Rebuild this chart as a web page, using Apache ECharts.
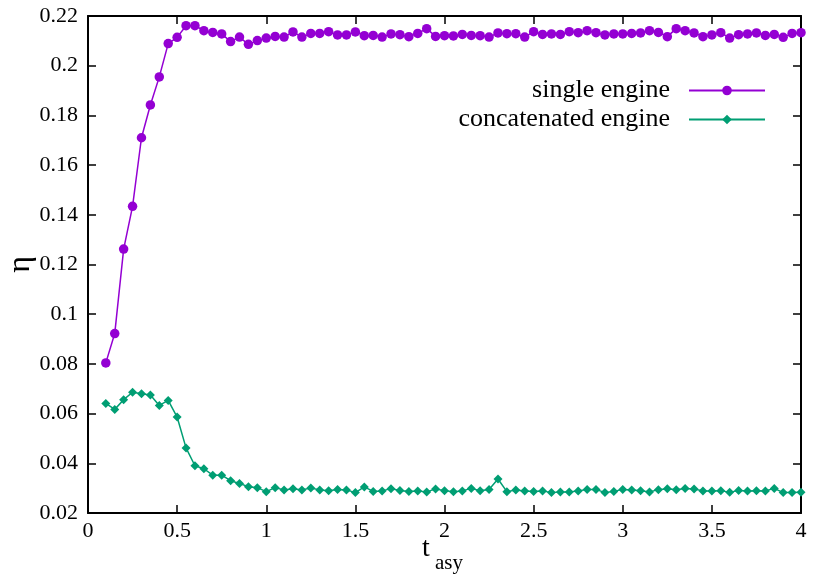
<!DOCTYPE html>
<html>
<head>
<meta charset="utf-8">
<script src="https://cdn.jsdelivr.net/npm/echarts@6/dist/echarts.min.js"></script>
<style>
  html, body { margin: 0; padding: 0; background: #fff; }
  #chart { width: 830px; height: 581px; }
</style>
</head>
<body>
<div id="chart"></div>
<script>
// t_asy sample points
const tAsy = [
  0.1, 0.15, 0.2, 0.25, 0.3, 0.35, 0.4, 0.45, 0.5, 0.55, 0.6, 0.65, 0.7, 0.75, 0.8, 0.85, 0.9, 0.95,
  1.0, 1.05, 1.1, 1.15, 1.2, 1.25, 1.3, 1.35, 1.4, 1.45, 1.5, 1.55, 1.6, 1.65, 1.7, 1.75, 1.8, 1.85, 1.9, 1.95,
  2.0, 2.05, 2.1, 2.15, 2.2, 2.25, 2.3, 2.35, 2.4, 2.45, 2.5, 2.55, 2.6, 2.65, 2.7, 2.75, 2.8, 2.85, 2.9, 2.95,
  3.0, 3.05, 3.1, 3.15, 3.2, 3.25, 3.3, 3.35, 3.4, 3.45, 3.5, 3.55, 3.6, 3.65, 3.7, 3.75, 3.8, 3.85, 3.9, 3.95,
  4.0,
];

const singleEngine = [
  0.0804, 0.0922, 0.1262, 0.1434, 0.1710, 0.1842, 0.1955, 0.2089, 0.2114, 0.2161, 0.2161, 0.2141, 0.2134, 0.2128, 0.2097, 0.2115, 0.2086, 0.2101,
  0.2111, 0.2118, 0.2115, 0.2136, 0.2115, 0.2130, 0.2130, 0.2137, 0.2124, 0.2124, 0.2136, 0.2121, 0.2122, 0.2115, 0.2128, 0.2125, 0.2117, 0.2130, 0.2149, 0.2118,
  0.2121, 0.2120, 0.2126, 0.2122, 0.2121, 0.2115, 0.2132, 0.2129, 0.2129, 0.2115, 0.2137, 0.2126, 0.2128, 0.2126, 0.2137, 0.2133, 0.2141, 0.2133, 0.2124, 0.2128,
  0.2128, 0.2130, 0.2132, 0.2141, 0.2134, 0.2117, 0.2149, 0.2141, 0.2132, 0.2117, 0.2124, 0.2133, 0.2111, 0.2125, 0.2128, 0.2132, 0.2122, 0.2126, 0.2114, 0.2130,
  0.2133,
];

const concatenatedEngine = [
  0.0641, 0.0617, 0.0656, 0.0686, 0.0680, 0.0675, 0.0633, 0.0653, 0.0586, 0.0462, 0.0390, 0.0378, 0.0352, 0.0352, 0.0330, 0.0319, 0.0306, 0.0302,
  0.0286, 0.0302, 0.0293, 0.0298, 0.0293, 0.0301, 0.0293, 0.0290, 0.0295, 0.0293, 0.0282, 0.0305, 0.0287, 0.0289, 0.0298, 0.0291, 0.0287, 0.0289, 0.0285, 0.0297,
  0.0290, 0.0286, 0.0289, 0.0299, 0.0290, 0.0295, 0.0337, 0.0286, 0.0293, 0.0289, 0.0287, 0.0289, 0.0282, 0.0285, 0.0285, 0.0289, 0.0295, 0.0295, 0.0282, 0.0287,
  0.0295, 0.0293, 0.0290, 0.0285, 0.0294, 0.0298, 0.0294, 0.0299, 0.0297, 0.0289, 0.0289, 0.0290, 0.0283, 0.0291, 0.0289, 0.0290, 0.0289, 0.0299, 0.0282, 0.0282,
  0.0283,
];

const seriesNames = ['single engine', 'concatenated engine'];
const seriesColors = ['#9400d3', '#009e73'];

const FONT = '"Liberation Serif", "DejaVu Serif", serif';

const toPairs = (ys) => ys.map((y, i) => [tAsy[i], y]);
const fmtTick = (v) => String(parseFloat(v.toFixed(2)));

const frameAxis = {
  axisLine: { show: true, onZero: false, lineStyle: { color: '#000', width: 2 } },
  axisTick: { show: true, inside: true, length: 8, lineStyle: { color: '#000', width: 1.5 } },
  splitLine: { show: false },
};

const chart = echarts.init(document.getElementById('chart'), null, { renderer: 'canvas' });

chart.setOption({
  backgroundColor: '#fff',
  animation: false,
  textStyle: { fontFamily: FONT },
  grid: { left: 88, right: 29, top: 16, bottom: 68, containLabel: false },
  legend: {
    data: seriesNames,
    orient: 'vertical',
    align: 'right',
    right: 59,
    top: 71,
    itemWidth: 76,
    itemHeight: 12,
    itemGap: 0,
    textStyle: { fontFamily: FONT, fontSize: 26, lineHeight: 29, color: '#000', padding: [0, 14, 0, 0] },
  },
  xAxis: [
    {
      type: 'value', min: 0, max: 4, interval: 0.5, position: 'bottom',
      ...frameAxis,
      axisLabel: { color: '#000', fontFamily: FONT, fontSize: 22, margin: 7, formatter: fmtTick },
    },
    {
      type: 'value', min: 0, max: 4, interval: 0.5, position: 'top',
      ...frameAxis,
      axisLabel: { show: false },
    },
  ],
  yAxis: [
    {
      type: 'value', min: 0.02, max: 0.22, interval: 0.02, position: 'left',
      ...frameAxis,
      axisLabel: { color: '#000', fontFamily: FONT, fontSize: 22, margin: 10, formatter: fmtTick },
    },
    {
      type: 'value', min: 0.02, max: 0.22, interval: 0.02, position: 'right',
      ...frameAxis,
      axisLabel: { show: false },
    },
  ],
  graphic: [
    {
      type: 'text', left: 5, top: 256, rotation: Math.PI / 2,
      style: { text: 'η', font: '32px ' + FONT, fill: '#000' },
    },
    {
      type: 'text', x: 422, y: 535,
      style: { text: 't', font: '28px ' + FONT, fill: '#000' },
    },
    {
      type: 'text', x: 435, y: 553,
      style: { text: 'asy', font: '21px ' + FONT, fill: '#000' },
    },
  ],
  series: [
    {
      name: seriesNames[0],
      type: 'line',
      data: toPairs(singleEngine),
      symbol: 'circle',
      symbolSize: 9.5,
      clip: false,
      color: seriesColors[0],
      lineStyle: { width: 1.5, color: seriesColors[0] },
      itemStyle: { color: seriesColors[0] },
    },
    {
      name: seriesNames[1],
      type: 'line',
      data: toPairs(concatenatedEngine),
      symbol: 'diamond',
      symbolSize: 9,
      clip: false,
      color: seriesColors[1],
      lineStyle: { width: 1.5, color: seriesColors[1] },
      itemStyle: { color: seriesColors[1] },
    },
  ],
});
</script>
</body>
</html>
